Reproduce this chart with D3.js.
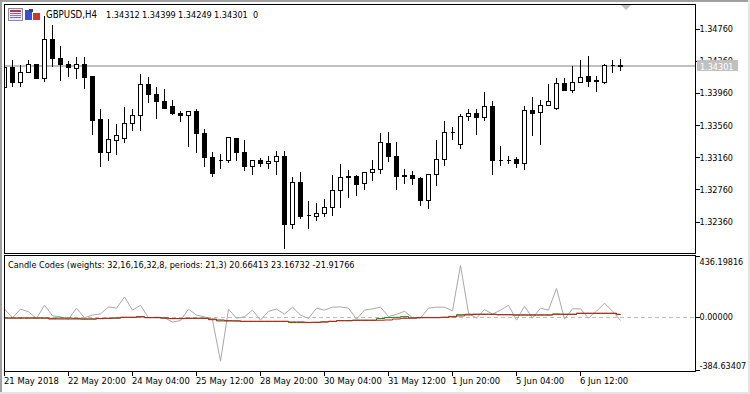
<!DOCTYPE html>
<html>
<head>
<meta charset="utf-8">
<script src="https://cdn.jsdelivr.net/npm/d3@7"></script>
<style>
html, body { margin: 0; padding: 0; background: #fff; overflow: hidden; }
text { font-family: "DejaVu Sans Condensed", "DejaVu Sans", sans-serif; font-size: 9.1px; fill: #000; }
.tick text { font-family: "DejaVu Sans Condensed", "DejaVu Sans", sans-serif; font-size: 9px; }
.time .tick text { font-size: 9.4px; }
text.head { font-size: 9.6px; }
.tick line, .frame { shape-rendering: crispEdges; }
</style>
</head>
<body>
<script>
var opens = [1.34030,1.34287,1.34096,1.34225,1.34325,1.34145,1.34636,1.34400,1.34325,1.34275,
	1.34325,1.34167,1.33643,1.33228,1.33378,1.33403,1.33590,1.33684,1.34076,1.33955,
	1.33864,1.33801,1.33718,1.33684,1.33739,1.33465,1.33170,1.33132,1.33124,1.33403,
	1.33228,1.33054,1.33129,1.33086,1.33111,1.33182,1.32326,1.32855,1.32447,1.32426,
	1.32463,1.32538,1.32750,1.32929,1.32933,1.32837,1.32974,1.33012,1.33344,1.33179,
	1.32942,1.32942,1.32908,1.32625,1.32949,1.33136,1.33479,1.33328,1.33672,1.33718,
	1.33660,1.33805,1.33132,1.33132,1.33145,1.33086,1.33752,1.33722,1.33809,1.33777,
	1.34088,1.33996,1.34101,1.34167,1.34122,1.34096,1.34312,1.34312];
var highs = [1.34304,1.34387,1.34325,1.34387,1.34325,1.34927,1.34815,1.34562,1.34375,1.34428,
	1.34428,1.34173,1.33780,1.33656,1.33593,1.33805,1.33780,1.34213,1.34179,1.34054,
	1.34026,1.33892,1.33755,1.33734,1.33777,1.33527,1.33241,1.33216,1.33419,1.33403,
	1.33382,1.33145,1.33166,1.33195,1.33257,1.33245,1.32924,1.32995,1.32622,1.32609,
	1.32659,1.32946,1.33083,1.33020,1.32958,1.32995,1.33145,1.33481,1.33494,1.33369,
	1.33033,1.33008,1.32933,1.32958,1.33382,1.33631,1.33556,1.33706,1.33777,1.33777,
	1.33992,1.33868,1.33319,1.33195,1.33182,1.33818,1.33926,1.33892,1.34092,1.34163,
	1.34163,1.34304,1.34387,1.34437,1.34188,1.34337,1.34387,1.34399];
var lows = [1.34017,1.34046,1.34046,1.34225,1.34145,1.34117,1.34295,1.34129,1.34179,1.34145,
	1.34021,1.33456,1.33049,1.33124,1.33198,1.33348,1.33498,1.33506,1.33846,1.33647,
	1.33772,1.33697,1.33610,1.33298,1.33223,1.33049,1.32924,1.33024,1.33099,1.33132,
	1.32999,1.32958,1.33049,1.33033,1.32958,1.32036,1.32285,1.32401,1.32285,1.32385,
	1.32426,1.32447,1.32543,1.32671,1.32696,1.32771,1.32883,1.32970,1.33120,1.32771,
	1.32846,1.32833,1.32572,1.32534,1.32821,1.33058,1.33382,1.33270,1.33622,1.33456,
	1.33631,1.32946,1.33070,1.33095,1.33037,1.33020,1.33444,1.33332,1.33809,1.33759,
	1.33996,1.33976,1.34101,1.34054,1.33983,1.34083,1.34220,1.34249];
var closes = [1.34291,1.34096,1.34225,1.34325,1.34145,1.34636,1.34395,1.34320,1.34283,1.34325,
	1.34158,1.33631,1.33228,1.33382,1.33440,1.33590,1.33689,1.34076,1.33946,1.33859,
	1.33780,1.33709,1.33684,1.33734,1.33460,1.33161,1.32962,1.33126,1.33407,1.33223,
	1.33049,1.33129,1.33086,1.33116,1.33179,1.32326,1.32855,1.32435,1.32441,1.32468,
	1.32543,1.32755,1.32917,1.32912,1.32833,1.32979,1.33016,1.33353,1.33173,1.32924,
	1.32921,1.32899,1.32625,1.32954,1.33141,1.33478,1.33475,1.33677,1.33714,1.33660,
	1.33801,1.33124,1.33127,1.33127,1.33086,1.33752,1.33718,1.33814,1.33864,1.34088,
	1.33996,1.34101,1.34163,1.34108,1.34117,1.34312,1.34312,1.34301];

var greyCode = [60,-2,60,41,-7,88,12,5,-12,67,
	-2,17,26,76,67,148,53,88,-2,2,
	-2,-33,-22,60,17,5,-17,-315,60,-5,
	5,53,-19,45,60,24,74,17,-7,67,
	53,74,76,67,-12,53,62,74,7,22,
	45,-2,-5,67,74,74,48,375,31,-5,
	57,24,53,88,-19,81,-5,67,53,210,
	-12,62,62,-5,45,103,45,-21.92];
var redCode = [-4,-4,-4,-4,-4,-4,-11,-11,-11,-11,
	-11,-11,-8,-6,-4,1,1,4,-1,-1,
	-4,-8,-8,-6,-6,-6,-16,-18,-23,-25,
	-28,-28,-28,-28,-28,-28,-32,-32,-35,-35,
	-32,-28,-23,-23,-20,-20,-20,-20,-18,-11,
	-6,-4,-1,-1,-1,1,4,11,18,23,
	23,23,20,20,18,18,18,18,18,23,
	23,23,30,30,30,30,30,23.17];
var greenCode = [-4,-4,-4,-4,-4,-4,-6,-4,-4,-6,
	-11,-11,-8,-6,-4,1,1,6,-1,-1,
	-4,-8,-8,-6,-6,-6,-11,-25,-25,-25,
	-28,-28,-28,-28,-28,-28,-37,-37,-37,-35,
	-32,-28,-23,-23,-20,-20,-20,-8,-1,1,
	6,-4,-1,-1,-1,1,8,20,23,23,
	23,23,20,20,18,18,18,18,18,25,
	23,23,30,30,30,30,30,20.66];

var priceTicks = [1.34760,1.34360,1.33960,1.33560,1.33160,1.32760,1.32360];
var codeTicks = [436.19816,0,-384.63407];
var timeIndex = [0,8,16,24,32,40,48,56,64,72];
var timeLabels = ["21 May 2018","22 May 20:00","24 May 04:00","25 May 12:00","28 May 20:00",
	"30 May 04:00","31 May 12:00","1 Jun 20:00","5 Jun 04:00","6 Jun 12:00"];
var headerLabels = ["GBPUSD,H4","1.34312","1.34399","1.34249","1.34301","0"];
var headerX = [46,106,142,178,214,253];
var lastPrice = 1.34301;

var width = 750, height = 394;
var left = 4, right = 695, top1 = 4, bottom1 = 253, top2 = 255, bottom2 = 371;

var svg = d3.select("body").append("svg")
	.attr("width", width)
	.attr("height", height)
	.style("display", "block");

// window edges
svg.append("rect").attr("class","frame").attr("x",0).attr("y",0).attr("width",width).attr("height",2).attr("fill","#a0a0a0");
svg.append("rect").attr("class","frame").attr("x",0).attr("y",0).attr("width",2).attr("height",height).attr("fill","#a0a0a0");
svg.append("rect").attr("class","frame").attr("x",0).attr("y",392).attr("width",width).attr("height",2).attr("fill","#e4e4e4");
svg.append("rect").attr("class","frame").attr("x",748).attr("y",0).attr("width",2).attr("height",height).attr("fill","#e4e4e4");

var x = d3.scaleLinear().domain([0,77]).range([4.5,620.5]);
var yPrice = d3.scaleLinear().domain([1.31974,1.35064]).range([253,5]);
var yCode = d3.scaleLinear().domain([-384.63407,436.19816]).range([370.9,256.9]);

// plain hyphen for negatives, as the terminal prints them
function fixed5(d){ return (+d).toFixed(5); }

svg.append("defs").append("clipPath").attr("id","clipTop")
	.append("rect").attr("x",left).attr("y",top1).attr("width",right-left).attr("height",bottom1-top1);
svg.select("defs").append("clipPath").attr("id","clipBottom")
	.append("rect").attr("x",left).attr("y",top2).attr("width",right-left).attr("height",bottom2-top2);

function px(v){ return Math.floor(v)+0.5; }

var candles = svg.append("g").attr("clip-path","url(#clipTop)");

// bid line sits behind the candles
candles.append("rect").attr("class","frame")
	.attr("x",left).attr("y",px(yPrice(lastPrice))-1.5)
	.attr("width",right-left).attr("height",2).attr("fill","#c0c0c0");

var idx = d3.range(opens.length);

candles.selectAll("line.wick").data(idx).enter().append("line")
	.attr("class","wick frame")
	.attr("x1",function(i){ return x(i); })
	.attr("x2",function(i){ return x(i); })
	.attr("y1",function(i){ return px(yPrice(highs[i])); })
	.attr("y2",function(i){ return px(yPrice(lows[i])); })
	.attr("stroke","#000");

candles.selectAll("path.body").data(idx).enter().append("path")
	.attr("class","body frame")
	.attr("d",function(i){
		var t = px(yPrice(Math.max(opens[i],closes[i])));
		var b = px(yPrice(Math.min(opens[i],closes[i])));
		var c = x(i);
		return "M"+(c-2)+","+t+"H"+(c+2)+"V"+b+"H"+(c-2)+"Z";
	})
	.attr("fill",function(i){ return closes[i]>=opens[i] ? "#fff" : "#000"; })
	.attr("stroke","#000");

// indicator pane
var codes = svg.append("g").attr("clip-path","url(#clipBottom)");

codes.append("line").attr("class","frame")
	.attr("x1",left).attr("x2",right)
	.attr("y1",px(yCode(0))).attr("y2",px(yCode(0)))
	.attr("stroke","#bdbdbd").attr("stroke-dasharray","4,3");

function codeLine(values, colour, curve){
	var line = d3.line()
		.x(function(d,i){ return x(i); })
		.y(function(d){ return yCode(d); })
		.curve(curve);
	codes.append("path").datum(values)
		.attr("d",line)
		.attr("fill","none")
		.attr("stroke",colour)
		.attr("stroke-width",1);
}
codeLine(greyCode,"#a9a9a9",d3.curveLinear);
codeLine(greenCode,"#1f7a12",d3.curveStep);
codeLine(redCode,"#c41a1a",d3.curveStep);

// frames
svg.append("rect").attr("class","frame").attr("x",left+0.5).attr("y",top1+0.5)
	.attr("width",right-left).attr("height",bottom1-top1).attr("fill","none").attr("stroke","#000");
svg.append("rect").attr("class","frame").attr("x",left+0.5).attr("y",top2+0.5)
	.attr("width",right-left).attr("height",bottom2-top2).attr("fill","none").attr("stroke","#000");

// price axis
var priceAxis = d3.axisRight(yPrice).tickValues(priceTicks).tickSize(4).tickPadding(0)
	.tickFormat(fixed5).offset(0);
var priceAxisG = svg.append("g").attr("transform","translate("+(right+0.5)+",0)").call(priceAxis);
priceAxisG.select(".domain").remove();
priceAxisG.attr("font-family",null).attr("font-size",null);

// current price tag covers part of the 1.34360 label
svg.append("rect").attr("class","frame")
	.attr("x",697).attr("y",px(yPrice(lastPrice))-6.5)
	.attr("width",41).attr("height",11).attr("fill","#c0c0c0");
svg.append("text").attr("x",700).attr("y",px(yPrice(lastPrice))+3)
	.style("fill","#fff").style("font-size","9px").text(fixed5(lastPrice));

// indicator axis
var codeAxis = d3.axisRight(yCode).tickValues(codeTicks).tickSize(4).tickPadding(0)
	.tickFormat(fixed5).offset(0);
var codeAxisG = svg.append("g").attr("transform","translate("+(right+0.5)+",0)").call(codeAxis);
codeAxisG.select(".domain").remove();
codeAxisG.attr("font-family",null).attr("font-size",null);
codeAxisG.selectAll(".tick text")
	.attr("dy",function(d){ return d>0 ? "0.85em" : d<0 ? "-0.25em" : "0.32em"; });

// time axis
var timeAxis = d3.axisBottom(x).tickValues(timeIndex).tickSize(4).tickPadding(2)
	.tickFormat(function(d,i){ return timeLabels[i]; }).offset(0);
var timeAxisG = svg.append("g").attr("class","time").attr("transform","translate(0,"+(bottom2+0.5)+")").call(timeAxis);
timeAxisG.select(".domain").remove();
timeAxisG.attr("font-family",null).attr("font-size",null);
timeAxisG.selectAll(".tick text").attr("text-anchor","start").attr("x",-0.5);

// header
svg.selectAll("text.head").data(headerLabels).enter().append("text")
	.attr("class",function(d,i){ return i==0 ? "head" : "headval"; })
	.attr("x",function(d,i){ return headerX[i]; })
	.attr("y",18)
	.text(function(d){ return d; });
svg.append("text").attr("x",8).attr("y",268)
	.text("Candle Codes (weights: 32,16,16,32,8, periods: 21,3) 20.66413 23.16732 -21.91766");

// toolbar icons and scroll marker
var icons = svg.append("g").attr("class","frame");
icons.append("rect").attr("x",8.5).attr("y",8.5).attr("width",14).attr("height",12).attr("fill","#f0e8f0").attr("stroke","#8a8aa0");
icons.append("rect").attr("x",10).attr("y",10).attr("width",11).attr("height",2).attr("fill","#b04040");
icons.append("rect").attr("x",10).attr("y",13).attr("width",11).attr("height",1).attr("fill","#7070c0");
icons.append("rect").attr("x",10).attr("y",15).attr("width",11).attr("height",1).attr("fill","#c07070");
icons.append("rect").attr("x",10).attr("y",17).attr("width",11).attr("height",1).attr("fill","#7070c0");
icons.append("rect").attr("x",25).attr("y",10).attr("width",7).attr("height",10).attr("fill","#3a50d0");
icons.append("rect").attr("x",33).attr("y",13).attr("width",7).attr("height",7).attr("fill","#c83a30");
icons.append("rect").attr("x",29).attr("y",9).attr("width",4).attr("height",3).attr("fill","#404060");
svg.append("path").attr("d","M621,5H631L626,10Z").attr("fill","#c0c0c0");
</script>
</body>
</html>
